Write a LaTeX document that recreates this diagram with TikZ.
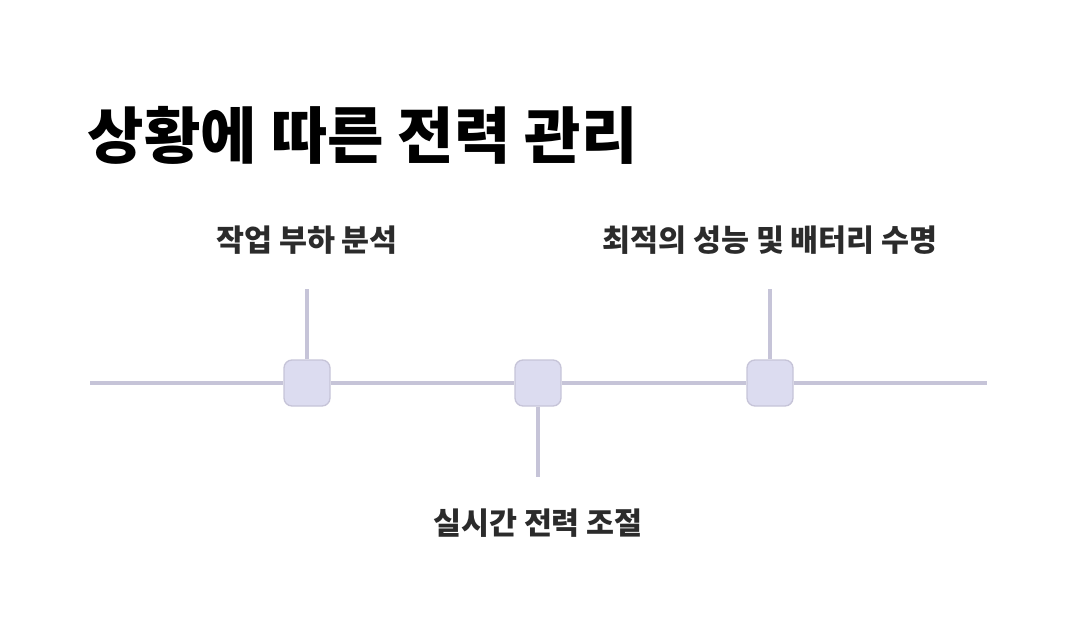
\documentclass[tikz,border=0pt]{standalone}
\usepackage{fontspec}
\setmainfont{Noto Sans CJK KR}
\definecolor{ink}{HTML}{2B2B2B}
\definecolor{rail}{HTML}{C6C4D8}
\definecolor{lilac}{HTML}{DCDCF0}

\begin{document}
\begin{tikzpicture}[x=0.75pt, y=-0.75pt,
  phase/.style={draw=rail, fill=lilac, line width=1pt, rounded corners=6pt, minimum size=34.5pt, inner sep=0pt},
  stem/.style={draw=rail, line width=2.3pt},
  caption/.style={font=\fontsize{22.8}{26}\selectfont\bfseries, text=ink}]

\useasboundingbox (0,0) rectangle (1074,640);

% Title
\node[anchor=west, font=\fontsize{46}{54}\selectfont\bfseries] (title) at (83, 135) {상황에 따른 전력 관리};

% Timeline ends
\coordinate (railL) at (90, 383);
\coordinate (railR) at (987, 383);

% Steps on the timeline
\node[phase] (load) at (307, 383) {};
\node[phase] (adjust) at (538, 383) {};
\node[phase] (life) at (770, 383) {};

\draw[stem] (railL) -- (load) -- (adjust) -- (life) -- (railR);

% Stems up and down
\coordinate (loadTop) at (307, 289);
\coordinate (adjustBot) at (538, 477);
\coordinate (lifeTop) at (770, 289);
\draw[stem] (load) -- (loadTop);
\draw[stem] (adjust) -- (adjustBot);
\draw[stem] (life) -- (lifeTop);

% Captions
\node[caption] (loadText) at (307, 240) {작업 부하 분석};
\node[caption] (adjustText) at (538, 523) {실시간 전력 조절};
\node[caption] (lifeText) at (770, 240) {최적의 성능 및 배터리 수명};

\end{tikzpicture}
\end{document}
